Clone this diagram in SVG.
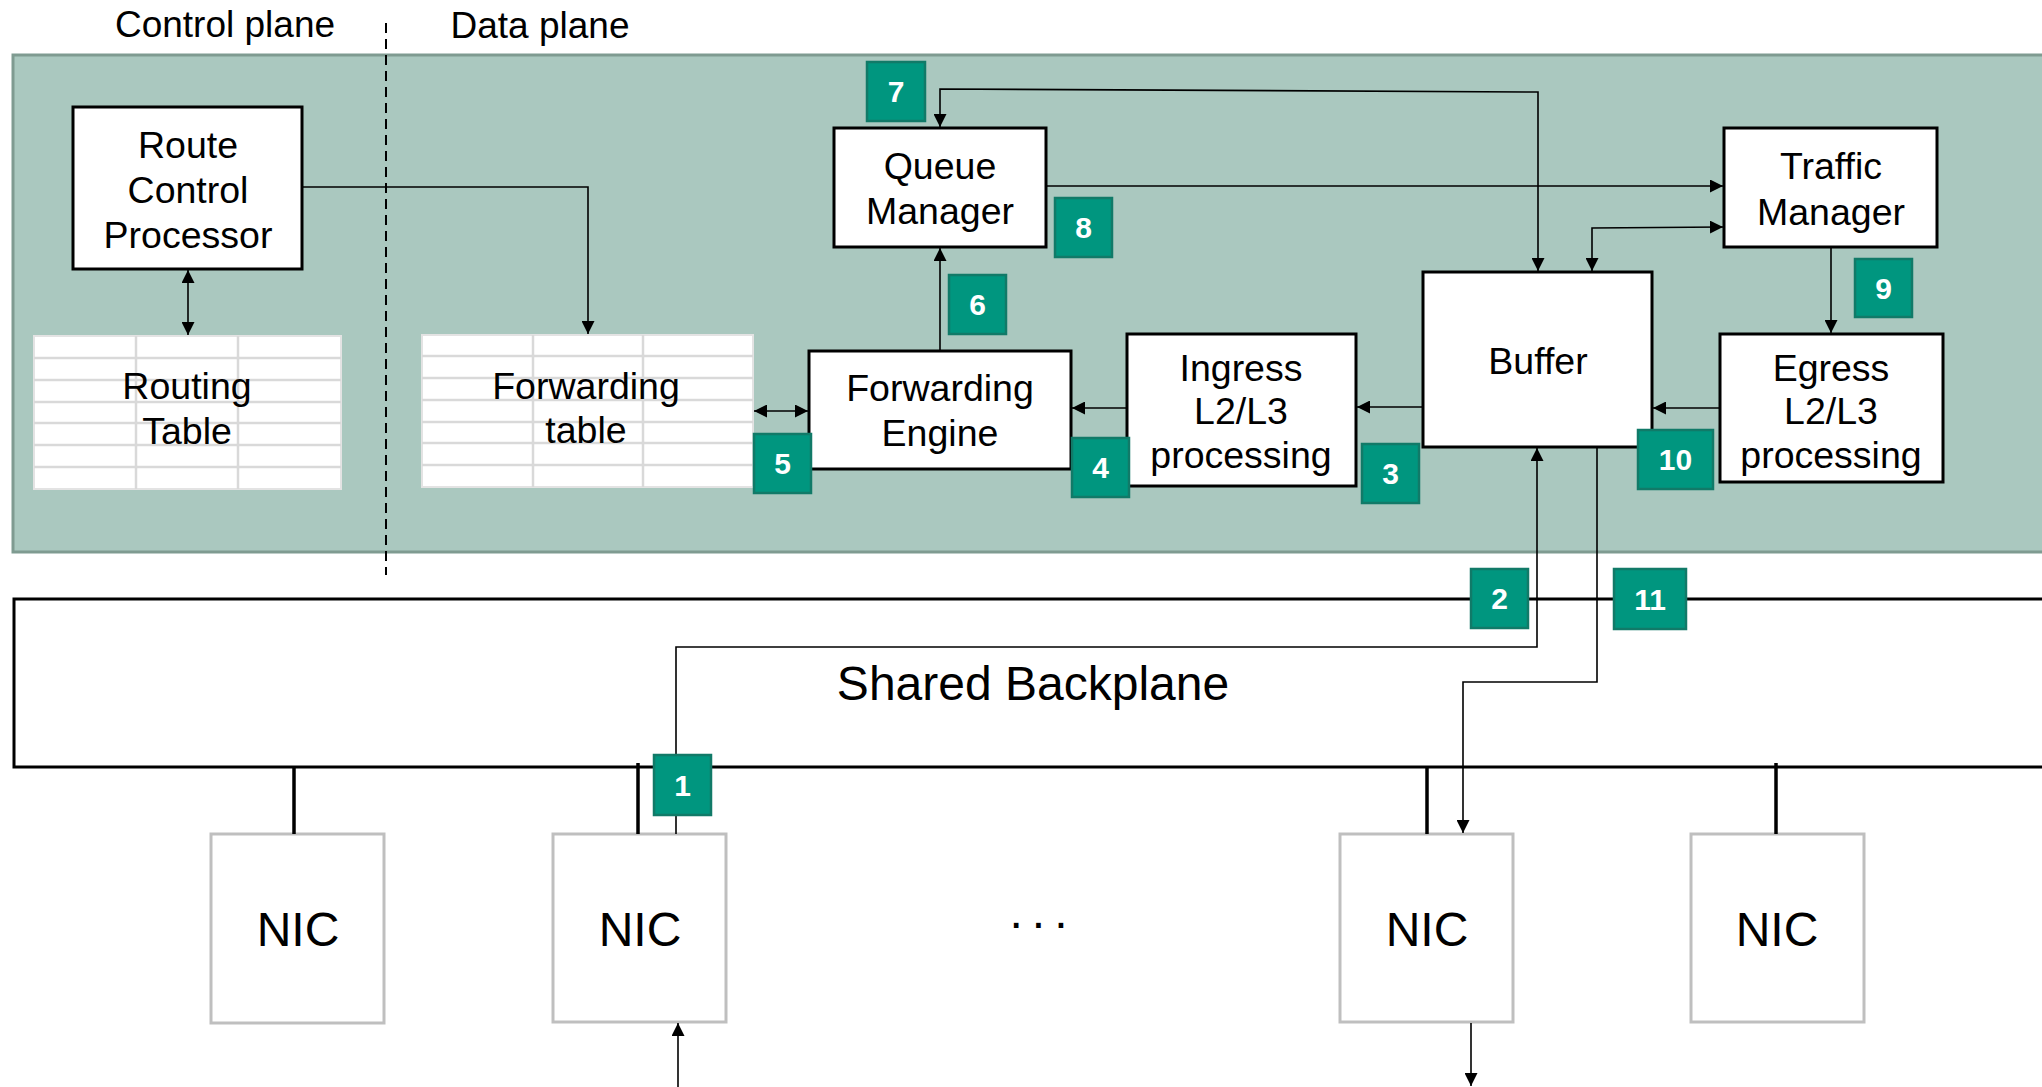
<svg xmlns="http://www.w3.org/2000/svg" width="2042" height="1087" viewBox="0 0 2042 1087">
<defs>
<marker id="ah" viewBox="0 0 12 12" refX="12" refY="6" markerWidth="13" markerHeight="13" markerUnits="userSpaceOnUse" orient="auto-start-reverse">
<path d="M0,0 L12,6 L0,12 Z" fill="#000"/>
</marker>
<style>
text{font-family:"Liberation Sans",Arial,sans-serif;fill:#000;text-anchor:middle}
.lbl{font-size:37.5px}
.hdr{font-size:37px}
.big{font-size:48px}
.box{fill:#fff;stroke:#000;stroke-width:3}
.nic{fill:#fff;stroke:#bfbfbf;stroke-width:3}
.tbl{fill:#fff;stroke:#e3e3e3;stroke-width:2}
.grid{stroke:#d9d9d9;stroke-width:2.5;fill:none}
.con{fill:none;stroke:#000;stroke-width:1.6}
.bar{stroke:#000;stroke-width:3.5}
.badge rect{fill:#00967f;stroke:#117a68;stroke-width:2.5}
.badge text{fill:#fff;font-size:30px;font-weight:bold}
</style>
</defs>
<rect width="2042" height="1087" fill="#fff"/>

<g id="titles">
<text class="hdr" x="225" y="37">Control plane</text>
<text class="hdr" x="540" y="38">Data plane</text>
</g>

<g id="router-panel">
<rect x="13" y="55" width="2040" height="497" fill="#aac8bf" stroke="#7f9b91" stroke-width="3"/>
</g>

<g id="backplane">
<rect x="14" y="599" width="2040" height="168" fill="#fff" stroke="#000" stroke-width="3"/>
<text class="big" x="1033" y="700">Shared Backplane</text>
</g>

<line id="plane-divider" x1="386" y1="23" x2="386" y2="575" stroke="#000" stroke-width="2" stroke-dasharray="10 6"/>

<g id="route-control-processor">
<rect class="box" x="73" y="107" width="229" height="162"/>
<text class="lbl" x="188" y="158">Route</text>
<text class="lbl" x="188" y="203">Control</text>
<text class="lbl" x="188" y="248">Processor</text>
</g>

<g id="routing-table">
<rect class="tbl" x="34" y="336" width="307" height="153"/>
<path class="grid" d="M136,336V489M238,336V489M34,358H341M34,380H341M34,402H341M34,423H341M34,445H341M34,467H341"/>
<text class="lbl" x="187" y="399">Routing</text>
<text class="lbl" x="187" y="444">Table</text>
</g>

<g id="forwarding-table">
<rect class="tbl" x="422" y="335" width="331" height="152"/>
<path class="grid" d="M533,335V487M643,335V487M422,356H753M422,378H753M422,400H753M422,422H753M422,443H753M422,465H753"/>
<text class="lbl" x="586" y="399">Forwarding</text>
<text class="lbl" x="586" y="443">table</text>
</g>

<g id="queue-manager">
<rect class="box" x="834" y="128" width="212" height="119"/>
<text class="lbl" x="940" y="179">Queue</text>
<text class="lbl" x="940" y="224">Manager</text>
</g>

<g id="forwarding-engine">
<rect class="box" x="809" y="351" width="262" height="118"/>
<text class="lbl" x="940" y="401">Forwarding</text>
<text class="lbl" x="940" y="446">Engine</text>
</g>

<g id="ingress">
<rect class="box" x="1127" y="334" width="229" height="152"/>
<text class="lbl" x="1241" y="381">Ingress</text>
<text class="lbl" x="1241" y="424">L2/L3</text>
<text class="lbl" x="1241" y="468">processing</text>
</g>

<g id="buffer">
<rect class="box" x="1423" y="272" width="229" height="175"/>
<text class="lbl" x="1538" y="374">Buffer</text>
</g>

<g id="traffic-manager">
<rect class="box" x="1724" y="128" width="213" height="119"/>
<text class="lbl" x="1831" y="179">Traffic</text>
<text class="lbl" x="1831" y="225">Manager</text>
</g>

<g id="egress">
<rect class="box" x="1720" y="334" width="223" height="148"/>
<text class="lbl" x="1831" y="381">Egress</text>
<text class="lbl" x="1831" y="424">L2/L3</text>
<text class="lbl" x="1831" y="468">processing</text>
</g>

<g id="nic-1">
<rect class="nic" x="211" y="834" width="173" height="189"/>
<text class="big" x="298" y="946">NIC</text>
</g>
<g id="nic-2">
<rect class="nic" x="553" y="834" width="173" height="188"/>
<text class="big" x="640" y="946">NIC</text>
</g>
<g id="nic-3">
<rect class="nic" x="1340" y="834" width="173" height="188"/>
<text class="big" x="1427" y="946">NIC</text>
</g>
<g id="nic-4">
<rect class="nic" x="1691" y="834" width="173" height="188"/>
<text class="big" x="1777" y="946">NIC</text>
</g>
<g id="ellipsis">
<text class="big" x="1043" y="928" letter-spacing="9">...</text>
</g>

<g id="connectors">
<line class="bar" x1="294" y1="767" x2="294" y2="834"/>
<line class="bar" x1="638" y1="763" x2="638" y2="834"/>
<line class="bar" x1="1427" y1="767" x2="1427" y2="834"/>
<line class="bar" x1="1776" y1="763" x2="1776" y2="834"/>
<path class="con" d="M188,270V335" marker-start="url(#ah)" marker-end="url(#ah)"/>
<path class="con" d="M302,187H588V334" marker-end="url(#ah)"/>
<path class="con" d="M754,411H808" marker-start="url(#ah)" marker-end="url(#ah)"/>
<path class="con" d="M940,350V248" marker-end="url(#ah)"/>
<path class="con" d="M940,127V89L1538,92V271" marker-start="url(#ah)" marker-end="url(#ah)"/>
<path class="con" d="M1047,186H1723" marker-end="url(#ah)"/>
<path class="con" d="M1592,271V228L1723,227" marker-start="url(#ah)" marker-end="url(#ah)"/>
<path class="con" d="M1831,248V333" marker-end="url(#ah)"/>
<path class="con" d="M1719,408H1653" marker-end="url(#ah)"/>
<path class="con" d="M1422,407H1357" marker-end="url(#ah)"/>
<path class="con" d="M1126,408H1072" marker-end="url(#ah)"/>
<path class="con" d="M676,834V647H1537V448" marker-end="url(#ah)"/>
<path class="con" d="M1597,448V682H1463V833" marker-end="url(#ah)"/>
<path class="con" d="M678,1087V1023" marker-end="url(#ah)"/>
<path class="con" d="M1471,1023V1086" marker-end="url(#ah)"/>
</g>

<g id="step-badges">
<g class="badge" id="badge-1"><rect x="654" y="755" width="57" height="60"/><text x="682.5" y="796">1</text></g>
<g class="badge" id="badge-2"><rect x="1471" y="569" width="57" height="59"/><text x="1499.5" y="609">2</text></g>
<g class="badge" id="badge-3"><rect x="1362" y="444" width="57" height="59"/><text x="1390.5" y="484">3</text></g>
<g class="badge" id="badge-4"><rect x="1072" y="438" width="57" height="59"/><text x="1100.5" y="478">4</text></g>
<g class="badge" id="badge-5"><rect x="754" y="434" width="57" height="59"/><text x="782.5" y="474">5</text></g>
<g class="badge" id="badge-6"><rect x="949" y="275" width="57" height="59"/><text x="977.5" y="315">6</text></g>
<g class="badge" id="badge-7"><rect x="867" y="62" width="58" height="59"/><text x="896" y="102">7</text></g>
<g class="badge" id="badge-8"><rect x="1055" y="198" width="57" height="59"/><text x="1083.5" y="238">8</text></g>
<g class="badge" id="badge-9"><rect x="1855" y="259" width="57" height="58"/><text x="1883.5" y="299">9</text></g>
<g class="badge" id="badge-10"><rect x="1638" y="430" width="75" height="59"/><text x="1675.5" y="470">10</text></g>
<g class="badge" id="badge-11"><rect x="1614" y="569" width="72" height="60"/><text x="1650" y="610">11</text></g>
</g>
</svg>
